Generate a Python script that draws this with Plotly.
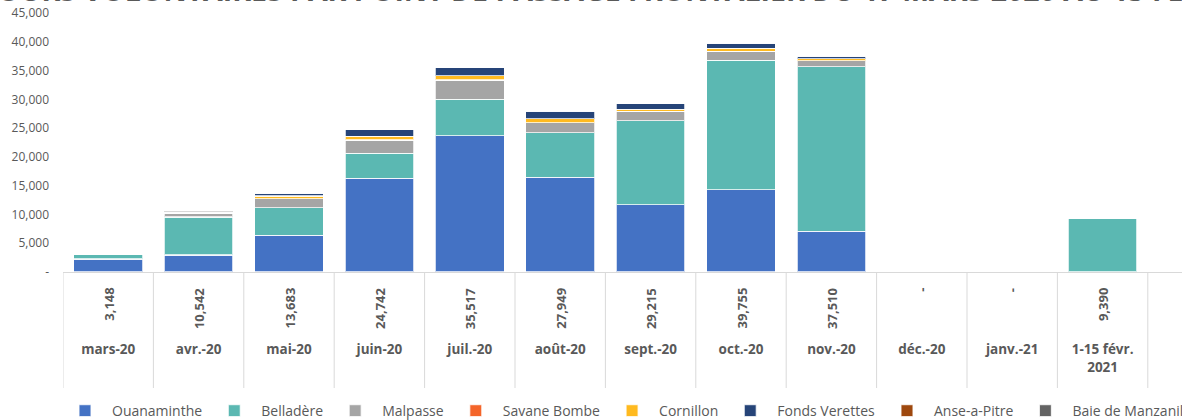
import plotly.graph_objects as go

months = ["mars-20", "avr.-20", "mai-20", "juin-20", "juil.-20", "août-20", "sept.-20",
          "oct.-20", "nov.-20", "déc.-20", "janv.-21", "1-15 févr.<br>2021"]
totals_text = ["3,148", "10,542", "13,683", "24,742", "35,517", "27,949", "29,215",
               "39,755", "37,510", "-", "-", "9,390"]

ouanaminthe = [2250, 2950, 6380, 16250, 23700, 16450, 11700, 14300, 7070, 0, 0, 0]
belladere = [850, 6600, 4820, 4350, 6280, 7730, 14620, 22450, 28600, 0, 0, 9390]
malpasse = [30, 700, 1570, 2300, 3300, 1740, 1570, 1620, 1040, 0, 0, 0]
savane_bombe = [0, 0, 0, 50, 87, 0, 0, 0, 0, 0, 0, 0]
cornillon = [0, 0, 450, 650, 750, 750, 350, 520, 350, 0, 0, 0]
fonds_verettes = [18, 100, 463, 1092, 1400, 1279, 975, 865, 450, 0, 0, 0]
anse_a_pitre = [0, 0, 0, 0, 0, 0, 0, 0, 0, 0, 0, 0]
baie_manzanille = [0, 192, 0, 50, 0, 0, 0, 0, 0, 0, 0, 0]

series = [
    ("Ouanaminthe", ouanaminthe, "#4472C4"),
    ("Belladère", belladere, "#5BB8B2"),
    ("Malpasse", malpasse, "#A5A5A5"),
    ("Savane Bombe", savane_bombe, "#F4652A"),
    ("Cornillon", cornillon, "#FFBA1F"),
    ("Fonds Verettes", fonds_verettes, "#264478"),
    ("Anse-a-Pitre", anse_a_pitre, "#9E480E"),
    ("Baie de Manzanille", baie_manzanille, "#636363"),
]

y_ticks = [0, 5000, 10000, 15000, 20000, 25000, 30000, 35000, 40000, 45000]
y_ticktext = ["-", "5,000", "10,000", "15,000", "20,000", "25,000", "30,000", "35,000", "40,000", "45,000"]

title_text = "RETOURS VOLONTAIRES PAR POINT DE PASSAGE FRONTALIER DU 17 MARS 2020 AU 15 FÉVRIER 2021"

FONT = "Open Sans"
GREY = "#595959"

fig = go.Figure()
for name, vals, color in series:
    fig.add_trace(go.Bar(
        x=months, y=vals, name=name, width=0.76,
        marker=dict(color=color, line=dict(color="rgba(255,255,255,0.75)", width=1.2)),
    ))

W, H = 1182, 420
ml, mt, mb, mr = 63, 13, 148, 0
plot_w = W - ml - mr
plot_h = H - mt - mb

def py(px):
    # pixel (from top of page) to paper y
    return (H - mb - px) / plot_h

def px_(x):
    # pixel (from left of page) to paper x
    return (x - ml) / plot_w

shapes = []
for i in range(len(months) + 1):
    shapes.append(dict(type="line", xref="x", yref="paper",
                       x0=i - 0.5, x1=i - 0.5, y0=py(388), y1=0,
                       line=dict(color="#D9D9D9", width=1)))

annotations = []
for i, t in enumerate(totals_text):
    annotations.append(dict(
        x=months[i], y=py(286), xref="x", yref="paper",
        text=t, textangle=-90, showarrow=False,
        xanchor="center", yanchor="top",
        font=dict(family=FONT, size=13, color=GREY, weight="bold"),
    ))

annotations.append(dict(
    x=px_(-56), y=py(11), xref="paper", yref="paper",
    text=title_text, showarrow=False, xanchor="left", yanchor="bottom",
    font=dict(family=FONT, size=28.5, color=GREY, weight="bold"),
))

fig.update_layout(
    width=W, height=H,
    barmode="stack",
    plot_bgcolor="white", paper_bgcolor="white",
    margin=dict(l=ml, r=mr, t=mt, b=mb, autoexpand=False),
    font=dict(family=FONT, color=GREY),
    xaxis=dict(
        type="category", range=[-0.5, -0.5 + plot_w / 90.4],
        showline=True, linecolor="#D9D9D9", linewidth=1,
        showgrid=False, ticks="", ticklabelstandoff=65,
        tickfont=dict(family=FONT, size=13.5, color=GREY, weight="bold"),
        fixedrange=True,
    ),
    yaxis=dict(
        range=[0, 45000], tickvals=y_ticks, ticktext=y_ticktext,
        showgrid=False, showline=False, zeroline=False, ticks="",
        ticklabelstandoff=13, fixedrange=True,
        tickfont=dict(family=FONT, size=12, color=GREY),
    ),
    legend=dict(
        orientation="h", x=px_(58), xanchor="left",
        y=py(411), yanchor="middle", traceorder="normal",
        itemwidth=44,
        font=dict(family=FONT, size=14, color=GREY),
        bgcolor="rgba(0,0,0,0)",
    ),
    shapes=shapes,
    annotations=annotations,
    showlegend=True,
)

fig.write_html("out.html", config={"displayModeBar": False},
               post_script="document.body.style.margin='0';")
